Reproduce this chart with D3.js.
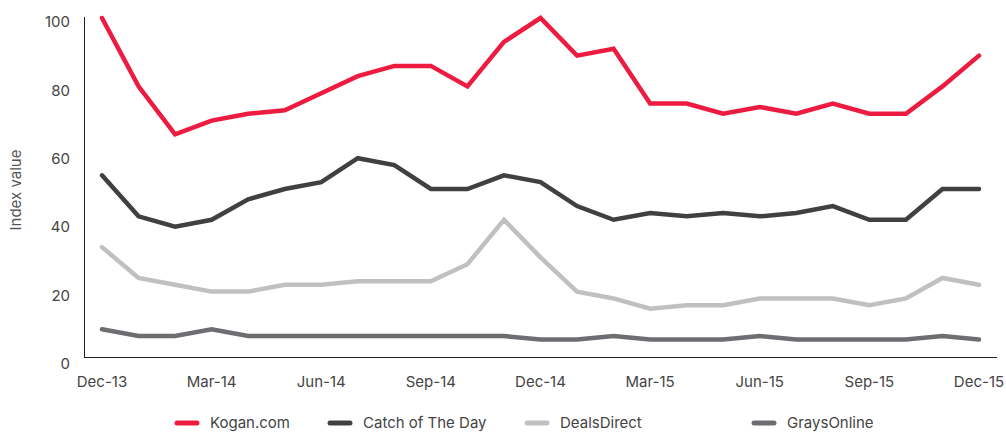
<!DOCTYPE html>
<html>
<head>
<meta charset="utf-8">
<script src="https://cdn.jsdelivr.net/npm/d3@7"></script>
<style>
  body { margin: 0; background: #fff; }
  svg text { font-family: Inter, "Noto Sans", sans-serif; fill: #444; }
</style>
</head>
<body>
<svg id="chart" width="1006" height="433"></svg>
<script>
'use strict';
// monthly index values, Dec-13 .. Dec-15
const months = ['Dec-13','Jan-14','Feb-14','Mar-14','Apr-14','May-14','Jun-14','Jul-14','Aug-14','Sep-14','Oct-14','Nov-14',
  'Dec-14','Jan-15','Feb-15','Mar-15','Apr-15','May-15','Jun-15','Jul-15','Aug-15','Sep-15','Oct-15','Nov-15','Dec-15'];
const tickLabels = ['Dec-13','Mar-14','Jun-14','Sep-14','Dec-14','Mar-15','Jun-15','Sep-15','Dec-15'];
const yTicks = [0, 20, 40, 60, 80, 100];

const kogan  = [100,80,66,70,72,73,78,83,86,86,80,93,100,89,91,75,75,72,74,72,75,72,72,80,89];
const catchOfTheDay = [54,42,39,41,47,50,52,59,57,50,50,54,52,45,41,43,42,43,42,43,45,41,41,50,50];
const dealsDirect = [33,24,22,20,20,22,22,23,23,23,28,41,30,20,18,15,16,16,18,18,18,16,18,24,22];
const graysOnline = [9,7,7,9,7,7,7,7,7,7,7,7,6,6,7,6,6,6,7,6,6,6,6,7,6];

const series = [
  {name: 'Kogan.com', values: kogan, color: '#ed1b3f'},
  {name: 'Catch of The Day', values: catchOfTheDay, color: '#404041'},
  {name: 'DealsDirect', values: dealsDirect, color: '#bfc0c2'},
  {name: 'GraysOnline', values: graysOnline, color: '#6d6e71'}
];

const svg = d3.select('#chart');

const x = d3.scalePoint()
  .domain(months)
  .range([102, 979]);

const y = d3.scaleLinear()
  .domain([0, 100])
  .range([360, 18]);

// axes lines (no tick marks)
svg.append('line')
  .attr('x1', 84.5).attr('x2', 84.5)
  .attr('y1', 17).attr('y2', 357.5)
  .attr('stroke', '#222').attr('stroke-width', 1);
svg.append('line')
  .attr('x1', 84).attr('x2', 997)
  .attr('y1', 357.5).attr('y2', 357.5)
  .attr('stroke', '#222').attr('stroke-width', 1);

// y tick labels
svg.append('g').selectAll('text')
  .data(yTicks)
  .enter().append('text')
  .attr('x', 70)
  .attr('y', function(d) { return y(d) + 4; })
  .attr('dy', '0.35em')
  .attr('text-anchor', 'end')
  .style('font-size', '15px')
  .text(function(d) { return d; });

// x tick labels
svg.append('g').selectAll('text')
  .data(tickLabels)
  .enter().append('text')
  .attr('x', function(d) { return x(d); })
  .attr('y', 382)
  .attr('dy', '0.35em')
  .attr('text-anchor', 'middle')
  .style('font-size', '15px')
  .text(function(d) { return d; });

// axis title
svg.append('text')
  .attr('transform', 'translate(16,190) rotate(-90)')
  .attr('text-anchor', 'middle')
  .attr('dy', '0.35em')
  .style('font-size', '15px')
  .style('fill', '#555')
  .text('Index value');

const line = d3.line()
  .x(function(d, i) { return x(months[i]); })
  .y(function(d) { return y(d); });

// draw bottom series first so red ends on top
series.slice().reverse().forEach(function(s) {
  svg.append('path')
    .datum(s.values)
    .attr('d', line)
    .attr('fill', 'none')
    .attr('stroke', s.color)
    .attr('stroke-width', 4.5)
    .attr('stroke-linejoin', 'miter')
    .attr('stroke-linecap', 'round');
});

// legend
const legendX = [175, 328, 525, 752];
const legend = svg.append('g').selectAll('g')
  .data(series)
  .enter().append('g')
  .attr('transform', function(d, i) { return 'translate(' + legendX[i] + ',423)'; });

legend.append('line')
  .attr('x1', 2).attr('x2', 22)
  .attr('y1', 0).attr('y2', 0)
  .attr('stroke', function(d) { return d.color; })
  .attr('stroke-width', 5)
  .attr('stroke-linecap', 'round');

legend.append('text')
  .attr('x', 35)
  .attr('y', 0)
  .attr('dy', '0.35em')
  .style('font-size', '15px')
  .text(function(d) { return d.name; });
</script>
</body>
</html>
